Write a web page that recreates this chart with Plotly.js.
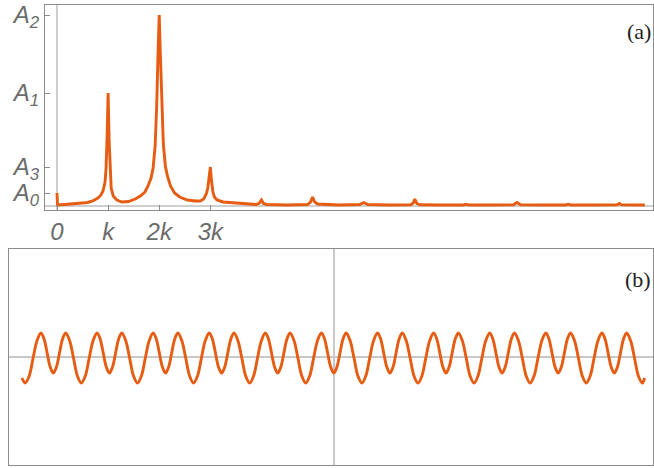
<!DOCTYPE html>
<html>
<head>
<meta charset="utf-8">
<script src="https://cdn.plot.ly/plotly-3.0.1.min.js"></script>
<style>html,body{margin:0;padding:0;background:#fff;}#chart{width:654px;height:468px;}</style>
</head>
<body>
<div id="chart"></div>
<script>
// Panel (a): spectrum, x in units of k, y in arbitrary amplitude units
const specX = [0, 0.01, 0.15, 0.3, 0.45, 0.6, 0.7, 0.8, 0.86, 0.9, 0.94, 0.96, 0.98, 1.0, 1.02, 1.04, 1.06, 1.1, 1.17, 1.27, 1.4, 1.53, 1.63, 1.72, 1.78, 1.84, 1.88, 1.92, 1.95, 1.98, 2.0, 2.02, 2.05, 2.08, 2.12, 2.16, 2.22, 2.3, 2.4, 2.55, 2.7, 2.8, 2.87, 2.92, 2.95, 2.98, 3.0, 3.02, 3.05, 3.08, 3.13, 3.25, 3.45, 3.7, 3.9, 3.96, 4.0, 4.04, 4.1, 4.5, 4.9, 4.96, 5.0, 5.04, 5.1, 5.5, 5.92, 6.0, 6.08, 6.5, 6.92, 6.97, 7.0, 7.04, 7.1, 7.5, 7.95, 8.0, 8.05, 8.5, 8.93, 9.0, 9.07, 9.5, 9.95, 10.0, 10.05, 10.5, 10.95, 11.0, 11.05, 11.5];
const specY = [13, 1, 1.5, 2, 2.7, 3.5, 5, 8, 11, 15, 24, 38, 70, 113, 65, 30, 18, 10, 6, 4, 4.5, 7, 10, 14, 20, 28, 38, 60, 100, 160, 191, 155, 100, 62, 40, 30, 20, 13, 9, 6, 5, 5, 7, 12, 18, 28, 39, 26, 14, 9, 6, 4, 3, 2, 1.5, 3, 6, 2.5, 1.5, 1, 1.5, 4, 9, 4, 2, 1, 1.5, 3.5, 1.5, 1, 1.2, 3, 7, 2.5, 1.2, 1, 1, 1.8, 1, 1, 1.2, 3.5, 1.2, 1, 1, 1.8, 1, 1, 1.1, 2.6, 1.1, 1];

const xTickVals = [0, 1, 2, 3];
const xTickText = ['0', 'k', '2k', '3k'];
const yTickVals = [13, 39, 113, 191];
const yTickText = ['A<sub>0</sub>', 'A<sub>3</sub>', 'A<sub>1</sub>', 'A<sub>2</sub>'];

// Panel (b): signal, t in periods, y in arbitrary units
const sigT = [-5.56,
  -5.5, -5.43, -5.36, -5.29, -5.22, -5.165, -5.11, -5.055, -5, -4.945, -4.89, -4.835, -4.78, -4.71, -4.64, -4.57,
  -4.5, -4.43, -4.36, -4.29, -4.22, -4.165, -4.11, -4.055, -4, -3.945, -3.89, -3.835, -3.78, -3.71, -3.64, -3.57,
  -3.5, -3.43, -3.36, -3.29, -3.22, -3.165, -3.11, -3.055, -3, -2.945, -2.89, -2.835, -2.78, -2.71, -2.64, -2.57,
  -2.5, -2.43, -2.36, -2.29, -2.22, -2.165, -2.11, -2.055, -2, -1.945, -1.89, -1.835, -1.78, -1.71, -1.64, -1.57,
  -1.5, -1.43, -1.36, -1.29, -1.22, -1.165, -1.11, -1.055, -1, -0.945, -0.89, -0.835, -0.78, -0.71, -0.64, -0.57,
  -0.5, -0.43, -0.36, -0.29, -0.22, -0.165, -0.11, -0.055, 0, 0.055, 0.11, 0.165, 0.22, 0.29, 0.36, 0.43,
  0.5, 0.57, 0.64, 0.71, 0.78, 0.835, 0.89, 0.945, 1, 1.055, 1.11, 1.165, 1.22, 1.29, 1.36, 1.43,
  1.5, 1.57, 1.64, 1.71, 1.78, 1.835, 1.89, 1.945, 2, 2.055, 2.11, 2.165, 2.22, 2.29, 2.36, 2.43,
  2.5, 2.57, 2.64, 2.71, 2.78, 2.835, 2.89, 2.945, 3, 3.055, 3.11, 3.165, 3.22, 3.29, 3.36, 3.43,
  3.5, 3.57, 3.64, 3.71, 3.78, 3.835, 3.89, 3.945, 4, 4.055, 4.11, 4.165, 4.22, 4.29, 4.36, 4.43,
  4.5, 4.57, 4.64, 4.71, 4.78, 4.835, 4.89, 4.945, 5, 5.055, 5.11, 5.165, 5.22, 5.29, 5.36, 5.43,
  5.5, 5.54];
const sigY = [-21,
  -26, -19, -1, 16.5, 24, 18, 4, -10, -16, -10, 4, 18, 24, 16.5, -1, -19,
  -26, -19, -1, 16.5, 24, 18, 4, -10, -16, -10, 4, 18, 24, 16.5, -1, -19,
  -26, -19, -1, 16.5, 24, 18, 4, -10, -16, -10, 4, 18, 24, 16.5, -1, -19,
  -26, -19, -1, 16.5, 24, 18, 4, -10, -16, -10, 4, 18, 24, 16.5, -1, -19,
  -26, -19, -1, 16.5, 24, 18, 4, -10, -16, -10, 4, 18, 24, 16.5, -1, -19,
  -26, -19, -1, 16.5, 24, 18, 4, -10, -16, -10, 4, 18, 24, 16.5, -1, -19,
  -26, -19, -1, 16.5, 24, 18, 4, -10, -16, -10, 4, 18, 24, 16.5, -1, -19,
  -26, -19, -1, 16.5, 24, 18, 4, -10, -16, -10, 4, 18, 24, 16.5, -1, -19,
  -26, -19, -1, 16.5, 24, 18, 4, -10, -16, -10, 4, 18, 24, 16.5, -1, -19,
  -26, -19, -1, 16.5, 24, 18, 4, -10, -16, -10, 4, 18, 24, 16.5, -1, -19,
  -26, -19, -1, 16.5, 24, 18, 4, -10, -16, -10, 4, 18, 24, 16.5, -1, -19,
  -26, -21];

const W = 654, H = 468;
const lineCol = '#e65c12';
const axCol = '#8c8c8c';
const tickFont = {family: 'Liberation Sans, Arial, sans-serif', size: 24, color: '#6b6b6b', style: 'italic'};

const data = [
  {x: specX, y: specY, type: 'scatter', mode: 'lines', xaxis: 'x', yaxis: 'y',
   line: {color: lineCol, width: 2.9}, hoverinfo: 'skip'},
  {x: sigT, y: sigY, type: 'scatter', mode: 'lines', xaxis: 'x2', yaxis: 'y2',
   line: {color: lineCol, width: 2.9, shape: 'spline', smoothing: 1}, hoverinfo: 'skip'}
];

const layout = {
  width: W, height: H,
  margin: {l: 0, r: 0, t: 0, b: 0},
  paper_bgcolor: '#ffffff', plot_bgcolor: '#ffffff',
  showlegend: false,
  xaxis: {
    domain: [45 / W, 653 / W], range: [-0.235, 11.66],
    tickvals: xTickVals, ticktext: xTickText, tickfont: tickFont,
    ticks: 'inside', ticklen: 5, tickcolor: axCol, tickwidth: 1,
    showline: true, linecolor: axCol, linewidth: 1.2, mirror: true,
    showgrid: false, zeroline: true, zerolinecolor: '#cfcfcf', zerolinewidth: 1.5,
    anchor: 'y', fixedrange: true
  },
  yaxis: {
    domain: [1 - 210 / H, 1 - 5 / H], range: [-4, 201],
    tickvals: yTickVals, ticktext: yTickText, tickfont: tickFont,
    ticks: 'inside', ticklen: 5, tickcolor: axCol, tickwidth: 1,
    showline: true, linecolor: axCol, linewidth: 1.2, mirror: true,
    showgrid: false, zeroline: true, zerolinecolor: '#cfcfcf', zerolinewidth: 1.5,
    anchor: 'x', fixedrange: true
  },
  xaxis2: {
    domain: [9 / W, 653 / W], range: [-5.79, 5.69],
    showticklabels: false, ticks: '',
    showline: true, linecolor: axCol, linewidth: 1.2, mirror: true,
    showgrid: false, zeroline: true, zerolinecolor: '#c8c8c8', zerolinewidth: 1.5,
    anchor: 'y2', fixedrange: true
  },
  yaxis2: {
    domain: [1 - 465 / H, 1 - 249 / H], range: [-108, 108],
    showticklabels: false, ticks: '',
    showline: true, linecolor: axCol, linewidth: 1.2, mirror: true,
    showgrid: false, zeroline: true, zerolinecolor: '#c8c8c8', zerolinewidth: 1.5,
    anchor: 'x2', fixedrange: true
  },
  annotations: [
    {text: '(a)', xref: 'paper', yref: 'paper', x: 653 / W, y: 1 - 32 / H,
     xanchor: 'right', yanchor: 'middle', showarrow: false,
     font: {family: 'Liberation Serif, serif', size: 22, color: '#222222'}},
    {text: '(b)', xref: 'paper', yref: 'paper', x: 653 / W, y: 1 - 279 / H,
     xanchor: 'right', yanchor: 'middle', showarrow: false,
     font: {family: 'Liberation Serif, serif', size: 22, color: '#222222'}}
  ]
};

Plotly.newPlot('chart', data, layout, {staticPlot: true, displayModeBar: false});
</script>
</body>
</html>
